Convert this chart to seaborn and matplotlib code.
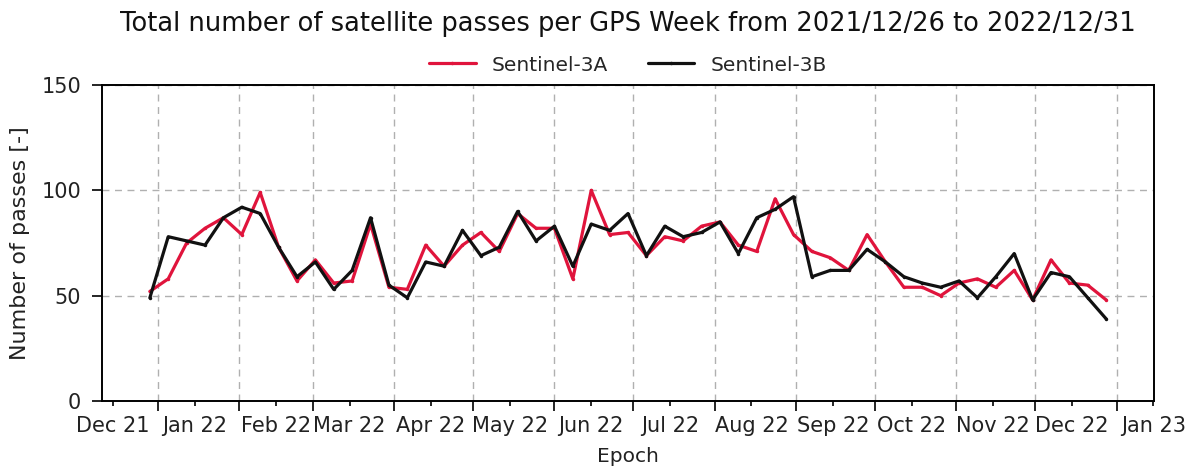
import numpy as np
import pandas as pd
import matplotlib
matplotlib.use("Agg")
import matplotlib.pyplot as plt
import matplotlib.dates as mdates
from matplotlib.ticker import NullFormatter
import seaborn as sns

# GPS weeks starting 2021-12-26 (plotted mid-week)
week_start = "2021-12-26"
n_weeks = 53
series_names = ["Sentinel-3A", "Sentinel-3B"]
s3a = [52, 58, 75, 82, 87, 79, 99, 73, 57, 67, 56, 57, 84, 54, 53, 74, 64, 74,
       80, 71, 89, 82, 82, 58, 100, 79, 80, 69, 78, 76, 83, 85, 74, 71, 96, 79,
       71, 68, 62, 79, 66, 54, 54, 50, 56, 58, 54, 62, 48, 67, 56, 55, 48]
s3b = [49, 78, 76, 74, 87, 92, 89, 73, 59, 66, 53, 62, 87, 55, 49, 66, 64, 81,
       69, 73, 90, 76, 83, 64, 84, 81, 89, 69, 83, 78, 80, 85, 70, 87, 91, 97,
       59, 62, 62, 72, 66, 59, 56, 54, 57, 49, 59, 70, 48, 61, 59, 49, 39]
colors = ["#E0143C", "#111111"]
y_ticks = [0, 50, 100, 150]

dates = pd.date_range(week_start, periods=n_weeks, freq="7D") + pd.Timedelta(days=3)
df = pd.DataFrame({
    "Epoch": np.concatenate([dates, dates]),
    "passes": s3a + s3b,
    "sat": [series_names[0]] * n_weeks + [series_names[1]] * n_weeks,
})

sns.set_style("ticks")
plt.rcParams["font.family"] = ["DejaVu Sans"]

fig = plt.figure(figsize=(11.92, 4.70), dpi=100)
ax = fig.add_axes([0.0856, 0.1468, 0.8825, 0.6723])

sns.lineplot(data=df, x="Epoch", y="passes", hue="sat", palette=colors,
             marker=".", markersize=5, markeredgewidth=0, linewidth=2.3,
             ax=ax, legend=False)

ax.set_ylim(0, 150)
ax.set_yticks(y_ticks)

ax.xaxis.set_major_locator(mdates.MonthLocator())
ax.xaxis.set_major_formatter(NullFormatter())
ax.xaxis.set_minor_locator(mdates.MonthLocator(bymonthday=15))
ax.xaxis.set_minor_formatter(mdates.DateFormatter("%b %y"))

ax.tick_params(axis="both", which="major", direction="out", length=7, width=1.2,
               labelsize=15, color="black", labelcolor="#222222")
ax.tick_params(axis="y", which="major", pad=8)
ax.tick_params(axis="x", which="minor", direction="out", length=3.5, width=1.2,
               pad=7.5, labelsize=15, color="black", labelcolor="#222222")

ax.grid(True, which="major", axis="both", linestyle=(0, (5, 4)), color="#b0b0b0",
        linewidth=1.0)
for s in ax.spines.values():
    s.set_visible(True)
    s.set_color("black")
    s.set_linewidth(1.4)

ax.set_xlabel("Epoch", fontsize=14.5, color="#222222", labelpad=8)
ax.set_ylabel("Number of passes [-]", fontsize=16, color="#222222", labelpad=8)
ax.set_title("Total number of satellite passes per GPS Week from 2021/12/26 to 2022/12/31",
             fontsize=18.5, color="#111111", pad=39)

handles = [plt.Line2D([], [], color=c, linewidth=2.3, marker=".", markersize=5,
                      markeredgewidth=0) for c in colors]
ax.legend(handles, series_names, ncol=2, loc="lower center",
          bbox_to_anchor=(0.5, 0.995), frameon=False, fontsize=14.5,
          handlelength=2.3, columnspacing=2.0, borderaxespad=0.2)

fig.savefig("out.png", dpi=100)
